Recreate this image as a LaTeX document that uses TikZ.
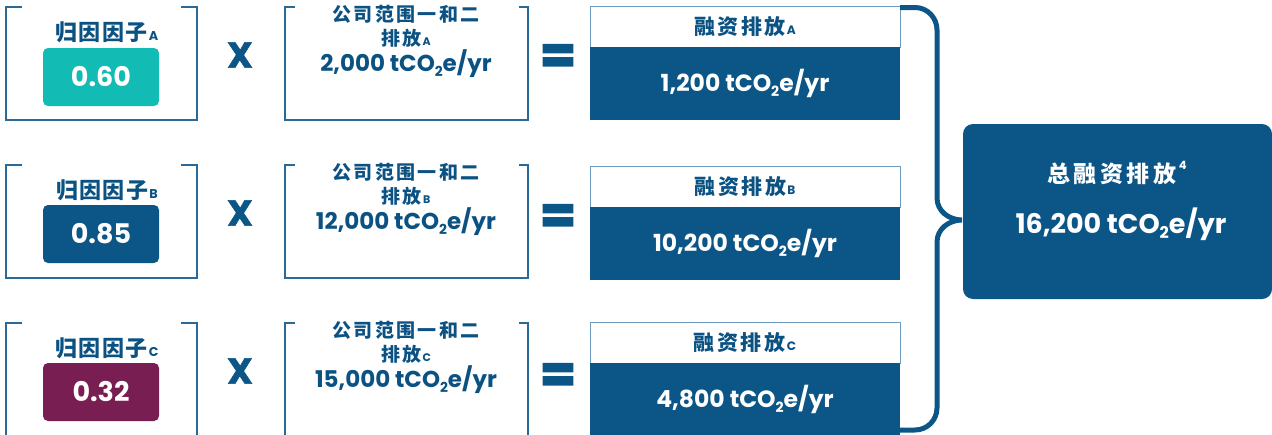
\documentclass[tikz,border=0pt]{standalone}
\usepackage{fontspec}
\setmainfont{Poppins}
\newfontfamily\cjk{Noto Sans CJK SC}
\definecolor{cnavy}{HTML}{0B5687}
\definecolor{ctext}{HTML}{0B5283}
\definecolor{cline}{HTML}{2A6A99}
\definecolor{chead}{HTML}{6E9BC0}
\definecolor{cteal}{HTML}{13BBB5}
\definecolor{cpurple}{HTML}{781E52}
\newcommand\lo[1]{\raisebox{-0.2em}{\scalebox{0.6}{#1}}}
\newcommand\idx[1]{\hspace{0.06em}\raisebox{-0.02em}{\scalebox{0.58}{\rmfamily\bfseries #1}}}
\newcommand\up[1]{\hspace{0.12em}\raisebox{0.55em}{\scalebox{0.5}{\rmfamily\bfseries #1}}}
\newcommand\cn[2]{{\cjk\bfseries\addfontfeature{LetterSpace=#1}#2}}
\tikzset{
  facbox/.style={minimum width=191, minimum height=113, inner sep=0},
  embox/.style={minimum width=243, minimum height=113, inner sep=0},
  bracket/.style={draw=cline, line width=1.5},
  lab/.style={inner sep=0, text=ctext, font=\fontsize{22}{25}\selectfont},
  emlab/.style={inner sep=0, text=ctext, font=\fontsize{19}{22}\selectfont},
  emval/.style={inner sep=0, text=ctext, font=\fontsize{23}{27}\selectfont\bfseries},
  valbox/.style={minimum width=116, minimum height=58, inner sep=0, rounded corners=5,
    text=white, font=\fontsize{27}{30}\selectfont\bfseries},
  op/.style={inner sep=0, text=cnavy, font=\fontsize{36}{40}\selectfont\bfseries\addfontfeature{FakeBold=1.5}},
  eqs/.style={inner sep=0, text=cnavy, font=\fontsize{52}{56}\selectfont\bfseries\addfontfeature{FakeBold=3}},
  finhead/.style={minimum width=310, minimum height=41, inner sep=0, draw=chead, line width=1, fill=white,
    text=ctext, font=\fontsize{21}{24}\selectfont},
  finbody/.style={minimum width=310, minimum height=73, inner sep=0, fill=cnavy,
    text=white, font=\fontsize{23.5}{27}\selectfont\bfseries},
  total/.style={minimum width=309, minimum height=175, inner sep=0, rounded corners=10, fill=cnavy},
  totlab/.style={inner sep=0, text=white, font=\fontsize{23}{26}\selectfont},
  totval/.style={inner sep=0, text=white, font=\fontsize{27}{30}\selectfont\bfseries},
  brace/.style={draw=cnavy, line width=5}
}
\begin{document}
\begin{tikzpicture}[x=1pt, y=-1pt]
\useasboundingbox (0,0) rectangle (1272,434);
% ---------- row A ----------
\node[facbox] (facA) at (101.5,63.5) {};
\draw[bracket] ([xshift=16]facA.north west) -- (facA.north west) -- (facA.south west) -- (facA.south east) -- (facA.north east) -- ([xshift=-16]facA.north east);
\node[lab] (facAl) at (107,32) {\cn{6}{归因因子}\idx{A}};
\node[valbox, fill=cteal] (facAv) at (101,77) {0.60};
\node[op] (xA) at (240,55) {X};
\node[embox] (emA) at (406.5,63.5) {};
\draw[bracket] ([xshift=10]emA.north west) -- (emA.north west) -- (emA.south west) -- (emA.south east) -- (emA.north east) -- ([xshift=-9]emA.north east);
\node[emlab] (emA1) at (406,14) {\cn{12}{公司范围一和二}};
\node[emlab] (emA2) at (406,38) {\cn{12}{排放}\idx{A}};
\node[emval] (emA3) at (406,64) {2,000 tCO\lo{2}e/yr};
\node[eqs] (eqA) at (558,59) {=};
\node[finhead] (finAh) at (745,26.5) {\cn{12}{融资排放}\idx{A}};
\node[finbody] (finAb) at (745,83.5) {1,200 tCO\lo{2}e/yr};
% ---------- row B ----------
\node[facbox] (facB) at (101.5,221.5) {};
\draw[bracket] ([xshift=16]facB.north west) -- (facB.north west) -- (facB.south west) -- (facB.south east) -- (facB.north east) -- ([xshift=-16]facB.north east);
\node[lab] (facBl) at (107,190) {\cn{6}{归因因子}\idx{B}};
\node[valbox, fill=cnavy] (facBv) at (101,234) {0.85};
\node[op] (xB) at (240,213) {X};
\node[embox] (emB) at (406.5,221.5) {};
\draw[bracket] ([xshift=10]emB.north west) -- (emB.north west) -- (emB.south west) -- (emB.south east) -- (emB.north east) -- ([xshift=-9]emB.north east);
\node[emlab] (emB1) at (406,172) {\cn{12}{公司范围一和二}};
\node[emlab] (emB2) at (406,196) {\cn{12}{排放}\idx{B}};
\node[emval] (emB3) at (406,222) {12,000 tCO\lo{2}e/yr};
\node[eqs] (eqB) at (558,219) {=};
\node[finhead] (finBh) at (745,186.5) {\cn{12}{融资排放}\idx{B}};
\node[finbody] (finBb) at (745,243.5) {10,200 tCO\lo{2}e/yr};
% ---------- row C ----------
\node[facbox] (facC) at (101.5,379.5) {};
\draw[bracket] ([xshift=16]facC.north west) -- (facC.north west) -- (facC.south west) -- (facC.south east) -- (facC.north east) -- ([xshift=-16]facC.north east);
\node[lab] (facCl) at (107,348) {\cn{6}{归因因子}\idx{C}};
\node[valbox, fill=cpurple] (facCv) at (101,392) {0.32};
\node[op] (xC) at (240,371) {X};
\node[embox] (emC) at (406.5,379.5) {};
\draw[bracket] ([xshift=10]emC.north west) -- (emC.north west) -- (emC.south west) -- (emC.south east) -- (emC.north east) -- ([xshift=-9]emC.north east);
\node[emlab] (emC1) at (406,330) {\cn{12}{公司范围一和二}};
\node[emlab] (emC2) at (406,354) {\cn{12}{排放}\idx{C}};
\node[emval] (emC3) at (406,380) {15,000 tCO\lo{2}e/yr};
\node[eqs] (eqC) at (558,378) {=};
\node[finhead] (finCh) at (745,342.5) {\cn{12}{融资排放}\idx{C}};
\node[finbody] (finCb) at (745,399.5) {4,800 tCO\lo{2}e/yr};
% ---------- brace ----------
\coordinate (btop) at (900,7.5);
\coordinate (tip) at (962,220);
\coordinate (bbot) at (900,430);
\draw[brace] (btop) -- (915,7.5) to[out=0,in=90] (937,30) -- (937,198)
  to[out=-90,in=180] (tip) to[out=180,in=90] (937,242) -- (937,408) to[out=-90,in=0] (915,430) -- (bbot);
% ---------- total ----------
\node[total] (tot) at (1117.5,211.5) {};
\node[totlab] (totl) at (1117,173) {\cn{15}{总融资排放}\up{4}};
\node[totval] (totv) at (1121,224) {16,200 tCO\lo{2}e/yr};
\end{tikzpicture}
\end{document}
